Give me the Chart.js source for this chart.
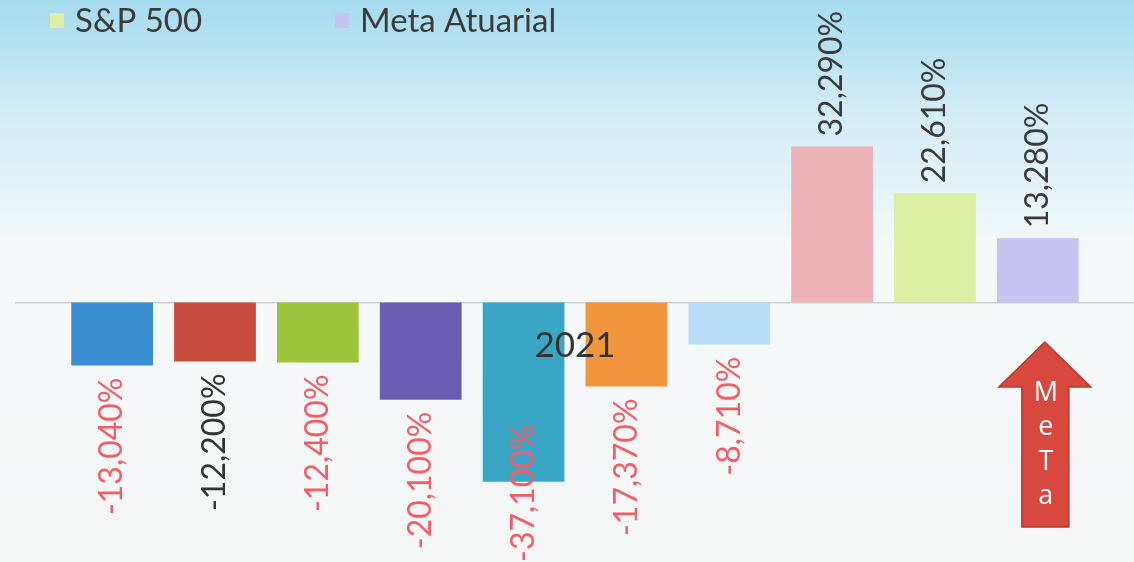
<!DOCTYPE html>
<html>
<head>
<meta charset="utf-8">
<script src="https://cdn.jsdelivr.net/npm/chart.js@4.4.1/dist/chart.umd.min.js"></script>
<style>
    html, body { margin: 0; padding: 0; background: #f7f8f8; }
    #wrap { width: 1134px; height: 562px; }
</style>
</head>
<body>
<div id="wrap"><canvas id="retornoChart"></canvas></div>
<script>
// one category, one dataset per index
const categories = ['2021'];
const seriesNames = ['', '', '', '', '', '', '', '', 'S&P 500', 'Meta Atuarial'];
const seriesValues = [-13.04, -12.2, -12.4, -20.1, -37.1, -17.37, -8.71, 32.29, 22.61, 13.28];

const barColors = ['#3a8fd2', '#c94c41', '#9dc43c', '#6b5cb4', '#3aa6c6', '#f1963d', '#b6dcf6', '#efb2b9', '#dcefa3', '#c7c4f1'];
const labelColors = ['#f65c66', '#333333', '#f65c66', '#f65c66', '#f65c66', '#f65c66', '#f65c66', '#3a3a3a', '#3a3a3a', '#3a3a3a'];

const fontFamily = 'Lato, "Open Sans", sans-serif';

function fmt(v) {
    return v.toFixed(3).replace('.', ',') + '%';
}

// soft blue slide background
const backgroundPlugin = {
    id: 'bg',
    beforeDraw(chart) {
        const ctx = chart.ctx;
        const g = ctx.createLinearGradient(0, 0, 0, chart.height);
        g.addColorStop(0, '#a5dbef');
        g.addColorStop(0.2, '#d2ecf5');
        g.addColorStop(0.45, '#f6f9fa');
        g.addColorStop(1, '#f5f6f6');
        ctx.save();
        ctx.fillStyle = g;
        ctx.fillRect(0, 0, chart.width, chart.height);
        ctx.restore();
    }
};

// rotated value labels at the end of each bar
const valueLabelPlugin = {
    id: 'valueLabels',
    afterDatasetsDraw(chart) {
        const ctx = chart.ctx;
        ctx.save();
        ctx.font = '32px ' + fontFamily;
        ctx.textBaseline = 'middle';
        chart.data.datasets.forEach((ds, i) => {
            const bar = chart.getDatasetMeta(i).data[0];
            const v = ds.data[0];
            const text = fmt(v);
            const w = ctx.measureText(text).width;
            ctx.fillStyle = labelColors[i];
            ctx.save();
            if (v >= 0) {
                ctx.translate(bar.x, bar.y - 10);
                ctx.rotate(-Math.PI / 2);
                ctx.textAlign = 'left';
                ctx.fillText(text, 0, 0);
            } else {
                let top = bar.y + 12;
                if (top + w > chart.height) top = chart.height - w;
                ctx.translate(bar.x, top);
                ctx.rotate(-Math.PI / 2);
                ctx.textAlign = 'right';
                ctx.fillText(text, 0, 0);
            }
            ctx.restore();
        });
        ctx.restore();
    }
};

// legend row (only named series) and the "MeTa" arrow
const legendPlugin = {
    id: 'slideLegend',
    afterDraw(chart) {
        const ctx = chart.ctx;
        const legendX = [50, 335];
        let k = 0;
        ctx.save();
        ctx.font = '33px ' + fontFamily;
        ctx.textBaseline = 'middle';
        ctx.textAlign = 'left';
        chart.data.datasets.forEach((ds, i) => {
            if (!ds.label) return;
            const x = legendX[k++];
            ctx.fillStyle = barColors[i];
            ctx.fillRect(x, 13, 14, 15);
            ctx.fillStyle = '#3b3b3b';
            ctx.fillText(ds.label, x + 25, 21);
        });

        // arrow next to the Meta Atuarial bar
        const last = chart.getDatasetMeta(chart.data.datasets.length - 1).data[0];
        const cx = last.x + 7;
        const tip = 342, headBase = 387, bottom = 527;
        ctx.beginPath();
        ctx.moveTo(cx, tip);
        ctx.lineTo(cx + 46, headBase);
        ctx.lineTo(cx + 24, headBase);
        ctx.lineTo(cx + 24, bottom);
        ctx.lineTo(cx - 23, bottom);
        ctx.lineTo(cx - 23, headBase);
        ctx.lineTo(cx - 46, headBase);
        ctx.closePath();
        ctx.fillStyle = '#d9483f';
        ctx.fill();
        ctx.strokeStyle = '#b8372f';
        ctx.lineWidth = 1.5;
        ctx.stroke();

        ctx.fillStyle = '#ffffff';
        ctx.font = '27px "Open Sans", sans-serif';
        ctx.textAlign = 'center';
        ['M', 'e', 'T', 'a'].forEach((ch, j) => {
            ctx.fillText(ch, cx + 1, 393 + j * 34.5);
        });
        ctx.restore();
    }
};

const datasets = seriesValues.map((v, i) => ({
    label: seriesNames[i],
    data: [v],
    backgroundColor: barColors[i],
    borderWidth: 0,
    categoryPercentage: 0.92,
    barPercentage: 0.795
}));

new Chart('retornoChart', {
    type: 'bar',
    data: {
        labels: categories,
        datasets: datasets
    },
    options: {
        responsive: true,
        maintainAspectRatio: false,
        animation: false,
        layout: {
            padding: { left: 16, right: 0, top: 0, bottom: 0 }
        },
        plugins: {
            legend: { display: false },
            tooltip: { enabled: false }
        },
        scales: {
            x: {
                position: { y: 0 },
                grid: { display: false, drawTicks: false },
                border: { display: true, color: '#cfcfcf', width: 1.5 },
                ticks: {
                    z: 1,
                    color: '#333333',
                    padding: 22,
                    font: { family: fontFamily, size: 35 }
                }
            },
            y: {
                display: false,
                min: -53.7,
                max: 62.6
            }
        }
    },
    plugins: [backgroundPlugin, valueLabelPlugin, legendPlugin]
});
</script>
</body>
</html>
